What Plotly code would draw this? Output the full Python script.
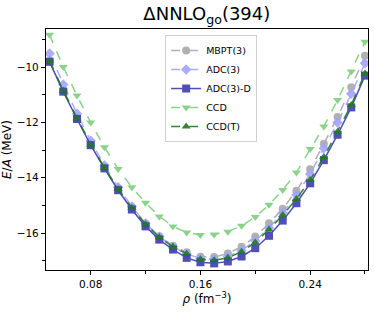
import plotly.graph_objects as go

density = [0.05, 0.06, 0.07, 0.08, 0.09, 0.10, 0.11, 0.12, 0.13, 0.14, 0.15, 0.16,
           0.17, 0.18, 0.19, 0.20, 0.21, 0.22, 0.23, 0.24, 0.25, 0.26, 0.27, 0.28]

mbpt3 = [-9.75, -10.83, -11.82, -12.77, -13.62, -14.39, -15.07, -15.66, -16.12, -16.46, -16.70, -16.86,
         -16.87, -16.74, -16.50, -16.13, -15.65, -15.12, -14.47, -13.69, -12.77, -11.80, -10.72, -9.58]
adc3 = [-9.50, -10.62, -11.68, -12.66, -13.55, -14.34, -15.04, -15.65, -16.13, -16.50, -16.76, -16.92,
        -16.95, -16.85, -16.63, -16.28, -15.82, -15.27, -14.62, -13.86, -12.93, -12.00, -10.96, -9.85]
adc3d = [-9.80, -10.88, -11.87, -12.82, -13.66, -14.45, -15.15, -15.76, -16.24, -16.60, -16.90, -17.06,
         -17.10, -17.03, -16.85, -16.55, -16.10, -15.55, -14.92, -14.20, -13.36, -12.44, -11.45, -10.30]
ccd = [-8.82, -9.99, -11.02, -12.00, -12.89, -13.68, -14.34, -14.90, -15.40, -15.76, -15.98, -16.07,
       -16.05, -15.95, -15.74, -15.42, -14.98, -14.44, -13.81, -12.96, -12.14, -11.18, -10.15, -9.07]
ccdt = [-9.78, -10.85, -11.84, -12.79, -13.64, -14.41, -15.09, -15.68, -16.15, -16.50, -16.75, -16.95,
        -16.99, -16.90, -16.68, -16.34, -15.87, -15.35, -14.77, -14.08, -13.25, -12.33, -11.36, -10.22]

series = [
    ("MBPT(3)", mbpt3, "#a9a9a9", "circle", "dash"),
    ("ADC(3)", adc3, "#a3a3ff", "diamond", "dash"),
    ("ADC(3)-D", adc3d, "#3c3cae", "square", "solid"),
    ("CCD", ccd, "#7fcf7f", "triangle-down", "dash"),
    ("CCD(T)", ccdt, "#217a21", "triangle-up", "dash"),
]

fig = go.Figure()
for name, vals, color, sym, dash in series:
    fig.add_trace(go.Scatter(
        x=density, y=vals, name=name, mode="lines+markers",
        line=dict(color=color, width=1.5, dash=dash),
        marker=dict(symbol=sym, size=8, color=color, line=dict(width=0)),
        opacity=0.9,
    ))

font = "DejaVu Sans"
fig.update_layout(
    width=374, height=312,
    margin=dict(l=46, r=6, t=29, b=42, autoexpand=False),
    paper_bgcolor="white", plot_bgcolor="white",
    font=dict(family=font, size=10.5, color="black"),
    title=dict(text="ΔNNLO<sub>go</sub>(394)", x=0.553, xanchor="center",
               y=0.955, yanchor="middle", font=dict(size=18, family=font)),
    showlegend=True,
    legend=dict(x=0.37, y=0.975, xanchor="left", yanchor="top",
                bgcolor="rgba(255,255,255,0.85)", bordercolor="#d0d0d0", borderwidth=1,
                font=dict(size=9.5, family=font), tracegroupgap=0, itemwidth=30),
)
fig.update_xaxes(
    range=[0.0474, 0.2822], tick0=0.08, dtick=0.08, tickformat=".2f",
    ticks="outside", ticklen=4, tickwidth=1, tickcolor="black",
    minor=dict(dtick=0.04, tick0=0.0, ticks="outside", ticklen=3, tickcolor="black"),
    showline=True, linecolor="black", linewidth=1.2, mirror=True,
    showgrid=False, zeroline=False, automargin=False,
    title=dict(text="<i>ρ</i> (fm<sup>−3</sup>)", font=dict(size=12), standoff=4),
)
fig.update_yaxes(
    range=[-17.34, -8.61], tick0=-10, dtick=2,
    ticks="outside", ticklen=4, tickwidth=1, tickcolor="black",
    minor=dict(dtick=1, ticks="outside", ticklen=3, tickcolor="black"),
    showline=True, linecolor="black", linewidth=1.2, mirror=True,
    showgrid=False, zeroline=False, automargin=False,
    title=dict(text="<i>E</i>/<i>A</i> (MeV)", font=dict(size=12), standoff=6),
)
fig.write_html("out.html", config={"displayModeBar": False},
               post_script="document.body.style.margin='0';")
